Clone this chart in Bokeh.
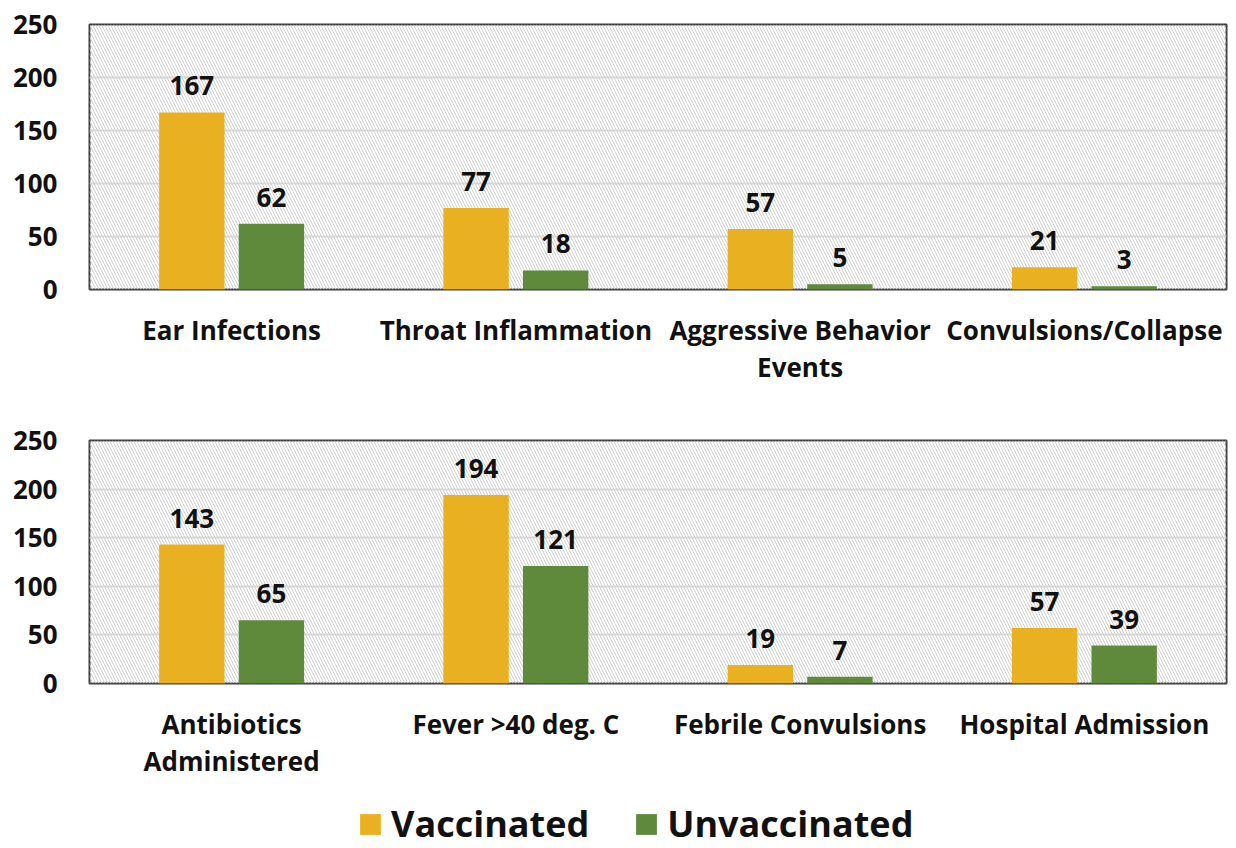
from bokeh.plotting import figure
from bokeh.models import (FactorRange, Range1d, ColumnDataSource, BoxAnnotation,
                          Legend, LegendItem, FixedTicker)
from bokeh.transform import dodge
from bokeh.layouts import column
from bokeh.core.properties import value
from bokeh.embed import file_html
from bokeh.resources import INLINE

# ---- data ----
top_categories = ["Ear Infections", "Throat Inflammation", "Aggressive Behavior\nEvents", "Convulsions/Collapse"]
top_vaccinated = [167, 77, 57, 21]
top_unvaccinated = [62, 18, 5, 3]

bottom_categories = ["Antibiotics\nAdministered", "Fever >40 deg. C", "Febrile Convulsions", "Hospital Admission"]
bottom_vaccinated = [143, 194, 19, 57]
bottom_unvaccinated = [65, 121, 7, 39]

y_ticks = [0, 50, 100, 150, 200, 250]
series_names = ["Vaccinated", "Unvaccinated"]

# ---- style ----
FONT = "Open Sans"
GOLD = "#E9B121"
GREEN = "#5F8A3B"
TXT = "#111111"
W = 1236


def make_panel(cats, vacc, unvacc, height, border_top, border_bottom):
    p = figure(x_range=FactorRange(*cats, range_padding=0), y_range=Range1d(0, 250),
               width=W, height=height, output_backend="svg", toolbar_location=None,
               min_border_left=89, min_border_right=10,
               min_border_top=border_top, min_border_bottom=border_bottom)
    p.background_fill_color = "white"
    p.border_fill_color = "white"
    p.outline_line_color = "#3a3a3a"
    p.outline_line_width = 2
    hatch = BoxAnnotation(fill_alpha=0, line_alpha=0, hatch_pattern="\\",
                          hatch_color="#d2d2d2", hatch_scale=6, hatch_weight=1,
                          level="underlay")
    p.add_layout(hatch)
    p.xgrid.grid_line_color = None
    p.ygrid.grid_line_color = "#d9d9d9"
    p.ygrid.grid_line_width = 2
    p.yaxis.ticker = FixedTicker(ticks=y_ticks)
    for ax in (p.xaxis[0], p.yaxis[0]):
        ax.axis_line_color = None
        ax.major_tick_line_color = None
        ax.minor_tick_line_color = None
        ax.major_label_text_font = FONT
        ax.major_label_text_font_style = "bold"
        ax.major_label_text_color = TXT
    p.yaxis.major_label_text_font_size = "26px"
    p.yaxis.major_label_standoff = 26
    p.xaxis.major_label_text_font_size = "26px"
    p.xaxis.major_label_standoff = 16
    p.xaxis.major_label_text_line_height = 1.05

    src = ColumnDataSource(dict(cat=cats, v=vacc, u=unvacc,
                                vl=[str(a) for a in vacc], ul=[str(a) for a in unvacc]))
    p.vbar(x=dodge("cat", -0.14, range=p.x_range), top="v", width=0.23,
           source=src, color=GOLD, line_color=None)
    p.vbar(x=dodge("cat", 0.14, range=p.x_range), top="u", width=0.23,
           source=src, color=GREEN, line_color=None)
    for off, fld, col in ((-0.14, "v", "vl"), (0.14, "u", "ul")):
        p.text(x=dodge("cat", off, range=p.x_range), y=fld,
               text=col, source=src, text_align="center", text_baseline="bottom",
               y_offset=-17, text_font=value(FONT), text_font_style="bold",
               text_font_size="26px", text_color=TXT)
    return p, src


p1, _ = make_panel(top_categories, top_vaccinated, top_unvaccinated, 400, 24, 111)
p2, src2 = make_panel(bottom_categories, bottom_vaccinated, bottom_unvaccinated, 390, 40, 107)

# legend strip: same series, bars kept out of the visible y window
pl = figure(x_range=FactorRange(*bottom_categories), y_range=Range1d(1000, 1001),
            width=W, height=58, output_backend="svg", toolbar_location=None,
            x_axis_location=None, y_axis_location=None, min_border=0)
pl.outline_line_color = None
pl.grid.grid_line_color = None
lr1 = pl.vbar(x="cat", top="v", width=0.2, source=src2, color=GOLD, line_color=None)
lr2 = pl.vbar(x="cat", top="u", width=0.2, source=src2, color=GREEN, line_color=None)

legend = Legend(items=[LegendItem(label=series_names[0], renderers=[lr1]),
                       LegendItem(label=series_names[1], renderers=[lr2])],
                orientation="horizontal", location=(268, 0),
                label_text_font=FONT, label_text_font_style="bold",
                label_text_font_size="36px", label_text_color=TXT,
                glyph_width=26, glyph_height=26, label_standoff=8, spacing=44,
                border_line_color=None, background_fill_alpha=0, margin=0, padding=0)
pl.add_layout(legend, "center")

layout = column(p1, p2, pl, spacing=0)
open("out.html", "w").write(file_html(layout, INLINE))
